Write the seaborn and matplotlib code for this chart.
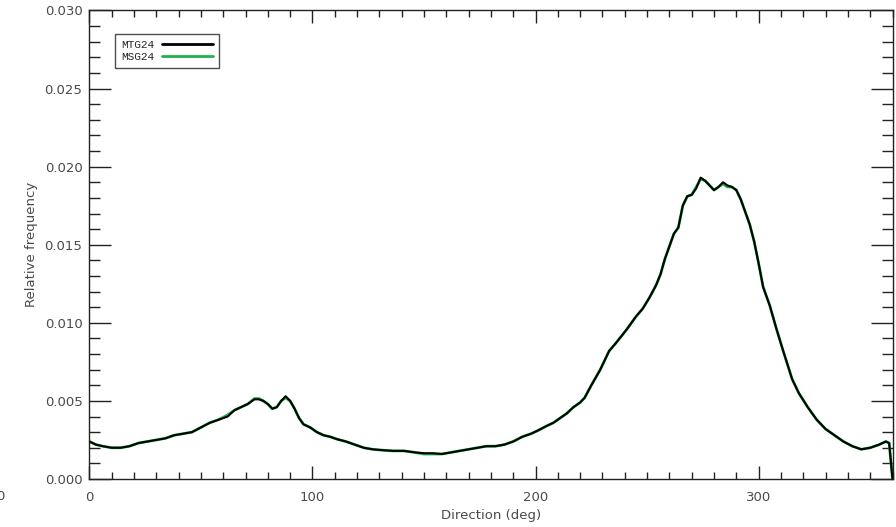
import numpy as np
import pandas as pd
import matplotlib
matplotlib.use("Agg")
import matplotlib.pyplot as plt
from matplotlib.ticker import MultipleLocator
import seaborn as sns

# Data (direction in deg, relative frequency)
direction = [0, 3, 6, 10, 14, 18, 22, 26, 30, 34, 38, 42, 46, 50, 54, 58, 62, 65,
             68, 71, 74, 76, 78, 80, 82, 84, 86, 88, 90, 92, 94, 96, 99, 102, 105,
             108, 111, 115, 119, 123, 127, 131, 136, 141, 146, 150, 154, 158, 162,
             166, 170, 174, 178, 182, 186, 190, 194, 198, 201, 205, 208, 211, 214,
             217, 220, 222, 225, 229, 233, 236, 241, 245, 248, 251, 254, 256, 258,
             260, 262, 264, 266, 268, 270, 272, 274, 276, 278, 280, 282, 284, 286,
             288, 290, 292, 294, 296, 298, 300, 302, 305, 308, 311, 315, 318, 322,
             326, 330, 334, 338, 342, 346, 350, 354, 357, 358.5, 360]

mtg24 = [0.0024, 0.0022, 0.0021, 0.0020, 0.0020, 0.0021, 0.0023, 0.0024, 0.0025,
         0.0026, 0.0028, 0.0029, 0.0030, 0.0033, 0.0036, 0.0038, 0.0040, 0.0044,
         0.0046, 0.0048, 0.0051, 0.0051, 0.0050, 0.0048, 0.0045, 0.0046, 0.0050,
         0.0053, 0.0050, 0.0045, 0.0039, 0.0035, 0.0033, 0.0030, 0.0028, 0.0027,
         0.00255, 0.0024, 0.0022, 0.0020, 0.0019, 0.00185, 0.0018, 0.0018, 0.0017,
         0.00165, 0.00165, 0.0016, 0.0017, 0.0018, 0.0019, 0.0020, 0.0021, 0.0021,
         0.0022, 0.0024, 0.0027, 0.0029, 0.0031, 0.0034, 0.0036, 0.0039, 0.0042,
         0.0046, 0.0049, 0.0052, 0.0060, 0.0070, 0.0082, 0.0087, 0.0096, 0.0104,
         0.0109, 0.0116, 0.0124, 0.0131, 0.0141, 0.0149, 0.0157, 0.0161, 0.0175,
         0.0181, 0.0182, 0.0186, 0.0193, 0.0191, 0.0188, 0.0185, 0.0187, 0.0190,
         0.0188, 0.0187, 0.0185, 0.0179, 0.0171, 0.0163, 0.0152, 0.0138, 0.0123,
         0.0111, 0.0096, 0.0082, 0.0064, 0.0055, 0.0046, 0.0038, 0.0032, 0.0028,
         0.0024, 0.0021, 0.0019, 0.0020, 0.0022, 0.0024, 0.0023, 0.0]

msg24 = [0.0024, 0.0022, 0.0021, 0.0020, 0.0020, 0.0021, 0.0023, 0.0024, 0.0025,
         0.0026, 0.0028, 0.0029, 0.0030, 0.0033, 0.0036, 0.0038, 0.0041, 0.0044,
         0.0046, 0.0048, 0.00515, 0.00515, 0.0050, 0.0048, 0.0045, 0.0046, 0.0050,
         0.0052, 0.0050, 0.0045, 0.0039, 0.0035, 0.0033, 0.0030, 0.0028, 0.0027,
         0.00255, 0.0024, 0.0022, 0.0020, 0.0019, 0.00185, 0.0018, 0.0018, 0.0017,
         0.0016, 0.0016, 0.0016, 0.0017, 0.0018, 0.0019, 0.0020, 0.0021, 0.0021,
         0.0022, 0.0024, 0.0027, 0.0029, 0.0031, 0.0034, 0.0036, 0.0039, 0.0042,
         0.0046, 0.0049, 0.0052, 0.0060, 0.0070, 0.0082, 0.0087, 0.0096, 0.0104,
         0.0109, 0.0116, 0.0124, 0.0131, 0.0141, 0.0149, 0.0157, 0.0161, 0.0175,
         0.0181, 0.0182, 0.0187, 0.0192, 0.0191, 0.0188, 0.0185, 0.0187, 0.0189,
         0.0187, 0.0187, 0.0185, 0.0179, 0.0171, 0.0163, 0.0152, 0.0138, 0.0123,
         0.0111, 0.0096, 0.0082, 0.0064, 0.0055, 0.0046, 0.0038, 0.0032, 0.0028,
         0.0024, 0.0021, 0.0019, 0.0020, 0.0022, 0.0024, 0.0023, 0.0]

series_names = ["MTG24", "MSG24"]
series_colors = {"MTG24": "#000000", "MSG24": "#1db34a"}

df = pd.DataFrame({
    "direction": direction * 2,
    "freq": mtg24 + msg24,
    "series": ["MTG24"] * len(mtg24) + ["MSG24"] * len(msg24),
})

sns.set_style("ticks")
plt.rcParams["font.family"] = ["DejaVu Sans"]
txt_col = "#4a4a4a"
ax_col = "#222222"

fig = plt.figure(figsize=(8.96, 5.27), dpi=100)
ax = fig.add_axes([0.0997, 0.0911, 0.8964, 0.889])

# green first so black sits on top, like the original
sns.lineplot(data=df[df.series == "MSG24"], x="direction", y="freq",
             color=series_colors["MSG24"], linewidth=2.0, ax=ax, legend=False)
sns.lineplot(data=df[df.series == "MTG24"], x="direction", y="freq",
             color=series_colors["MTG24"], linewidth=1.5, ax=ax, legend=False)

ax.set_xlim(0, 360)
ax.set_ylim(0, 0.030)
ax.xaxis.set_major_locator(MultipleLocator(100))
ax.xaxis.set_minor_locator(MultipleLocator(10))
ax.yaxis.set_major_locator(MultipleLocator(0.005))
ax.yaxis.set_minor_locator(MultipleLocator(0.001))
ax.yaxis.set_major_formatter(matplotlib.ticker.FormatStrFormatter("%.3f"))

ax.tick_params(which="both", direction="in", top=True, right=True,
               color=ax_col, labelcolor=txt_col, labelsize=9.5, width=1)
ax.tick_params(axis="x", which="major", length=9.5, pad=9)
ax.tick_params(axis="x", which="minor", length=4.7)
ax.tick_params(axis="y", which="major", length=16, pad=5)
ax.tick_params(axis="y", which="minor", length=8)
for sp in ax.spines.values():
    sp.set_color(ax_col)
    sp.set_linewidth(1)

ax.set_xlabel("Direction (deg)", color=txt_col, fontsize=9.5, labelpad=3)
ax.set_ylabel("Relative frequency", color=txt_col, fontsize=9.5, labelpad=5)

handles = [ax.lines[1], ax.lines[0]]
leg = ax.legend(handles, series_names, loc="upper left",
                bbox_to_anchor=(0.032, 0.95), markerfirst=False,
                frameon=True, fancybox=False, edgecolor="#222222",
                prop={"family": "Liberation Mono", "size": 8},
                handlelength=4.6, handletextpad=0.7, borderpad=0.55,
                labelspacing=0.15, borderaxespad=0)
leg.get_frame().set_linewidth(1)
for line in leg.get_lines():
    line.set_linewidth(2)

# cut-off tick label from neighbouring panel
fig.text(0.0, 1 - 497 / 527, "0", color=txt_col, fontsize=9.5,
         ha="center", va="center")

fig.savefig("out.png", dpi=100)
